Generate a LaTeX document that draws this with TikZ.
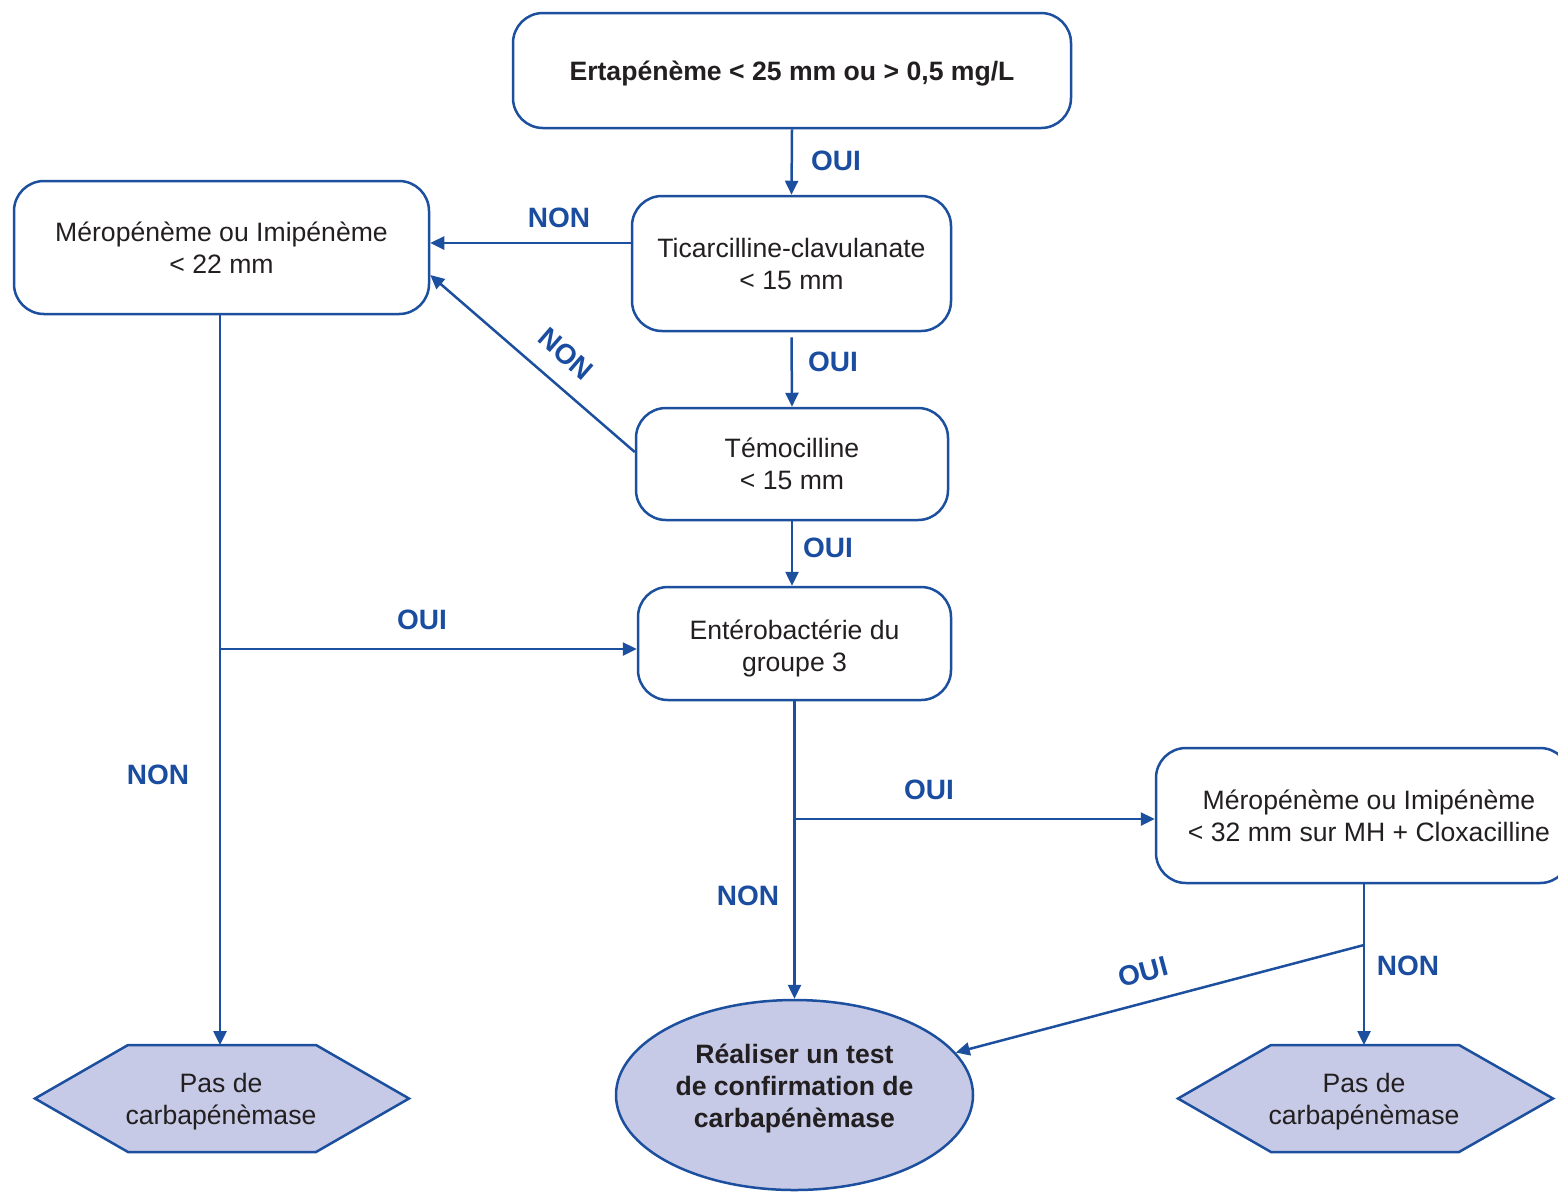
\documentclass[tikz,border=0pt]{standalone}
\usepackage{fontspec}
\setmainfont{Liberation Sans}
\usetikzlibrary{arrows.meta,shapes.geometric,calc}
\definecolor{lineblue}{HTML}{1D4F9F}
\definecolor{labblue}{HTML}{1A4DA0}
\definecolor{lav}{HTML}{C6CAE6}
\definecolor{txt}{HTML}{231F20}
\begin{document}
\begin{tikzpicture}[x=0.5pt,y=-0.5pt,
  box/.style={draw=lineblue, line width=1.25pt, rounded corners=15pt, align=center,
    text=txt, font=\fontsize{13.3}{16}\selectfont, inner sep=0pt},
  term/.style={draw=lineblue, fill=lav, line width=1.25pt},
  ttext/.style={align=center, text=txt, font=\fontsize{13.3}{16}\selectfont, inner sep=0pt},
  arr/.style={draw=lineblue, line width=1.25pt, -{Triangle[length=7pt,width=6.5pt]}},
  ln/.style={draw=lineblue, line width=1.25pt},
  lab/.style={text=labblue, font=\fontsize{14}{16}\selectfont\bfseries, inner sep=0pt}]
\useasboundingbox (0,0) rectangle (1558,1191);
\clip (0,0) rectangle (1558,1191);

% boxes
\node[box, minimum width=279pt, minimum height=57.5pt, text height=13pt, text depth=3pt, font=\fontsize{13.3}{16}\selectfont\bfseries] (top) at (792,70.5) {Ertapénème < 25 mm ou > 0,5 mg/L};
\node[box, minimum width=159.5pt, minimum height=67.5pt] (tic) at (791.5,263.5) {Ticarcilline-clavulanate\\< 15 mm};
\node[box, minimum width=207.5pt, minimum height=66.5pt] (mero1) at (221.5,247.5) {Méropénème ou Imipénème\\< 22 mm};
\node[box, minimum width=156pt, minimum height=56pt] (tem) at (792,464) {Témocilline\\< 15 mm};
\node[box, minimum width=156.5pt, minimum height=56.5pt, text depth=-2pt] (ent) at (794.5,643.5) {\rule{0pt}{12pt}Entérobactérie du\\groupe 3};
\node[box, minimum width=207pt, minimum height=67.5pt] (mero2) at (1363,815.5) {\hspace*{6pt}Méropénème ou Imipénème\\\hspace*{6pt}< 32 mm sur MH + Cloxacilline};

% ellipse
\node[ellipse, term, minimum width=178.5pt, minimum height=95pt, inner sep=0pt] (ell) at (794.5,1095) {};
\node[ttext, font=\fontsize{13.3}{16}\selectfont\bfseries] (elltext) at (794.5,1088) {Réaliser un test\\de confirmation de\\carbapénèmase};

% hexagons
\path[term] (35,1098.5) -- (128,1045) -- (316,1045) -- (409,1098.5) -- (316,1152) -- (128,1152) -- cycle;
\node[ttext] (hexL) at (221,1102) {Pas de\\carbapénèmase};
\coordinate (hexLtop) at (220,1045);
\path[term] (1178,1098.5) -- (1271,1045) -- (1459,1045) -- (1553,1098.5) -- (1459,1152) -- (1271,1152) -- cycle;
\node[ttext] (hexR) at (1364,1102) {Pas de\\carbapénèmase};
\coordinate (hexRtop) at (1364,1045);

% connectors
\draw[arr] (top.south) -- (tic.north);
\node[lab] (l1) at (836,161) {OUI};
\draw[arr] ([yshift=10.25pt]tic.west) -- ([yshift=10.25pt]tic.west -| mero1.east);
\node[lab] (l2) at (559,218) {NON};
\draw[arr] ([yshift=-2.5pt]tic.south) -- (tem.north);
\node[lab] (l3) at (833,362) {OUI};
\draw[arr] ([yshift=6pt]tem.west) -- ([yshift=-13.75pt]mero1.east);
\node[lab, rotate=-41] (l4) at (566,354) {NON};
\draw[arr] (tem.south) -- (tem.south |- ent.north);
\node[lab] (l5) at (828,548) {OUI};

\coordinate (b1) at (220,649);
\draw[arr] (220,314) -- (hexLtop);
\draw[arr] (b1) -- (b1 -| ent.west);
\node[lab] (l6) at (422,620) {OUI};
\node[lab] (l7) at (158,775) {NON};

\coordinate (b2) at (795,819);
\draw[arr] (ent.south) -- (ell.north);
\draw[arr] (b2) -- (b2 -| mero2.west);
\node[lab] (l8) at (929,790) {OUI};
\node[lab] (l9) at (748,896) {NON};

\coordinate (b3) at (1364,945);
\draw[arr] (1364,883) -- (hexRtop);
\draw[arr] (b3) -- (ell);
\node[lab, rotate=15] (l10) at (1143,972) {OUI};
\node[lab] (l11) at (1408,966) {NON};
\end{tikzpicture}
\end{document}
